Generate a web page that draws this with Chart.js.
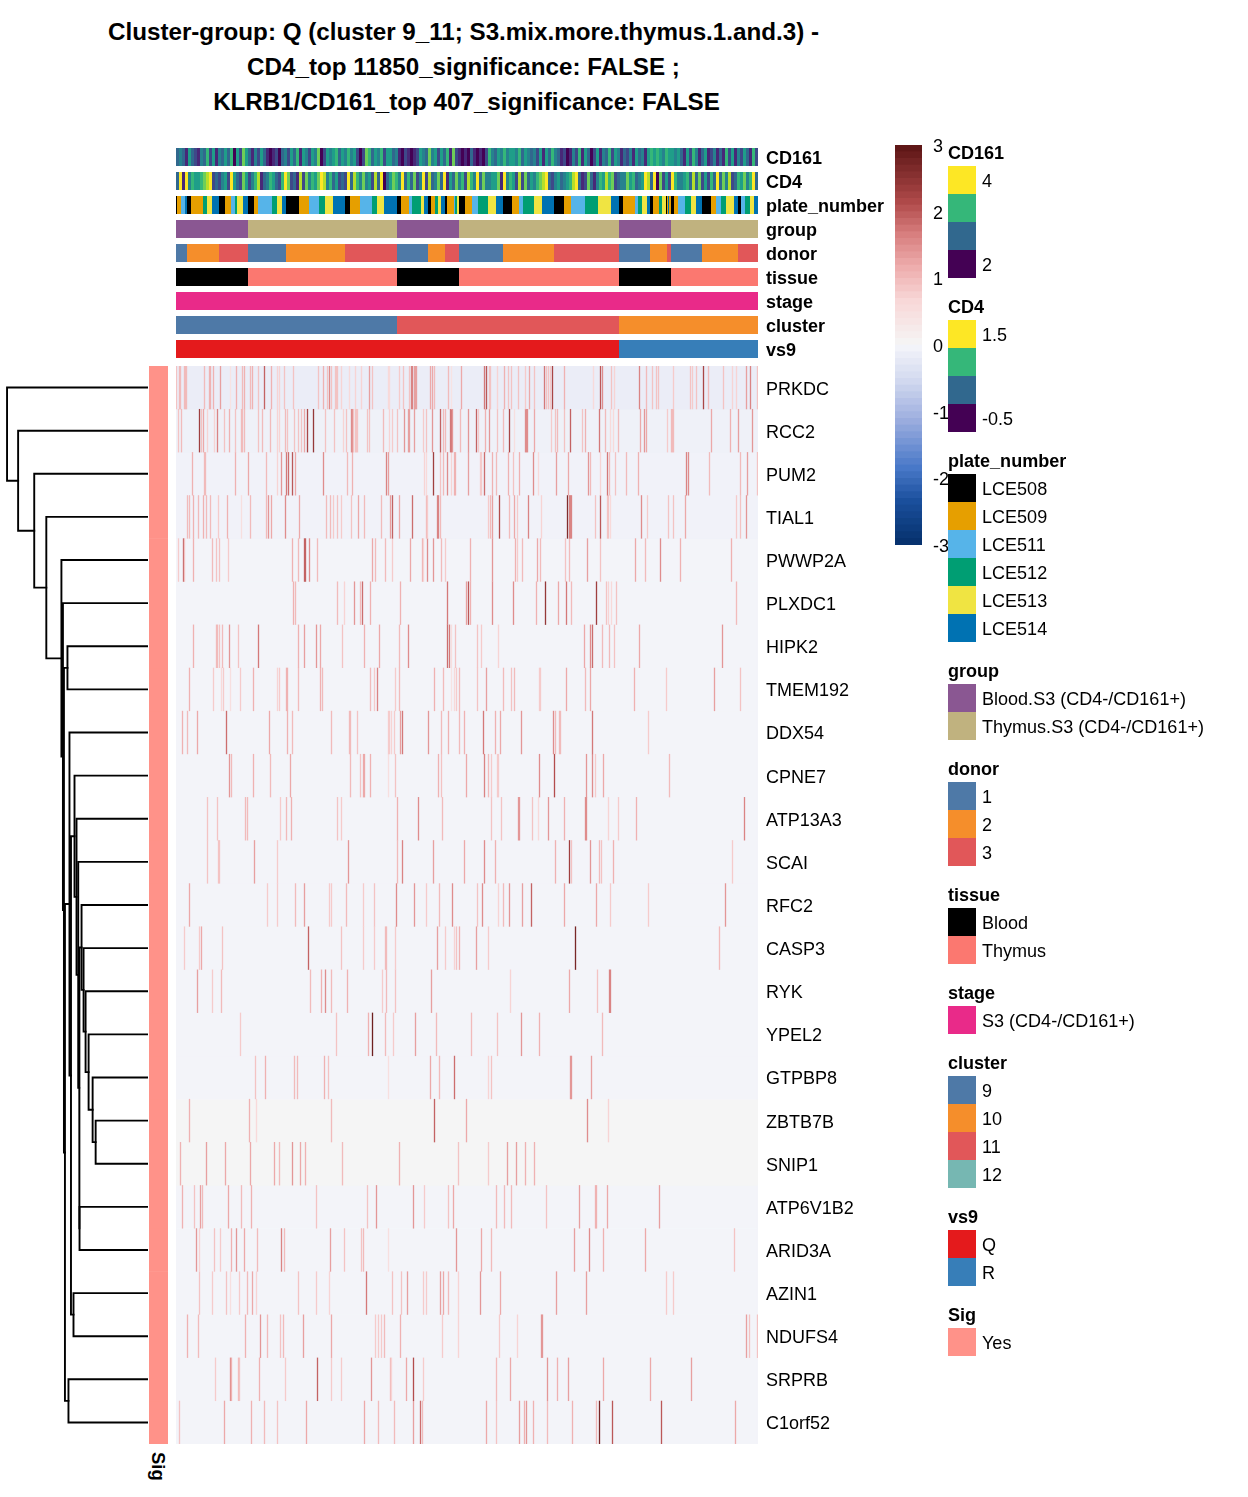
<!DOCTYPE html>
<html><head><meta charset="utf-8">
<script src="https://cdn.jsdelivr.net/npm/chart.js@4"></script>
<style>
html,body{margin:0;padding:0;background:#fff;width:1248px;height:1497px;overflow:hidden;font-family:"Liberation Sans",Arial,sans-serif;color:#000}
canvas{position:absolute;display:block}
.t{position:absolute;white-space:nowrap;line-height:20px}
.title{font-weight:bold;font-size:24.2px;line-height:30px;transform:translateX(-50%)}
.sw{position:absolute;left:948px;width:28px;height:28px;z-index:3}
.lg{z-index:3;font-size:18.05px}
.b{font-weight:bold}
</style></head><body>
<script>
// ---------- text ----------
const titleLines = ["Cluster-group: Q (cluster 9_11; S3.mix.more.thymus.1.and.3) -","CD4_top 11850_significance: FALSE ;","KLRB1/CD161_top 407_significance: FALSE"];
const genes = ["PRKDC","RCC2","PUM2","TIAL1","PWWP2A","PLXDC1","HIPK2","TMEM192","DDX54","CPNE7","ATP13A3","SCAI","RFC2","CASP3","RYK","YPEL2","GTPBP8","ZBTB7B","SNIP1","ATP6V1B2","ARID3A","AZIN1","NDUFS4","SRPRB","C1orf52"];
const trackNames = ["CD161","CD4","plate_number","group","donor","tissue","stage","cluster","vs9"];
const columnCount = 582;

// ---------- palettes ----------
const viridisLevels = ["#440154","#482878","#3e4989","#31688e","#26828e","#1f9e89","#35b779","#6ece58","#b5de2b","#fde725"];
const plateNames = ["LCE508","LCE509","LCE511","LCE512","LCE513","LCE514"];
const plateColors = ["#000000","#E69F00","#56B4E9","#009E73","#F0E442","#0072B2"];
const groupNames = ["Blood.S3 (CD4-/CD161+)","Thymus.S3 (CD4-/CD161+)"];
const groupColors = ["#8A5792","#C0B27F"];
const donorNames = ["1","2","3"];
const donorColors = ["#4E79A7","#F58E2B","#E15759"];
const tissueNames = ["Blood","Thymus"];
const tissueColors = ["#000000","#FB7870"];
const stageNames = ["S3 (CD4-/CD161+)"];
const stageColors = ["#E92A89"];
const clusterNames = ["9","10","11","12"];
const clusterColors = ["#4E79A7","#F58E2B","#E15759","#76B7B2"];
const vs9Names = ["Q","R"];
const vs9Colors = ["#E41A1C","#377EB8"];
const sigColor = "#FF9289";
const scaleValues = [-3,-2.35,-1.85,-1.1,-.5,-.15,-.03,0,.65,1.15,1.65,2.13,3];
const scaleColors = ["#05306b","#1a4f9c","#4878c8","#a0b0e0","#d5dcf0","#ebedf7","#f3f4f9","#f5f5f5","#f8d8d8","#eeaeae","#d87f7f","#b04a4a","#5a1414"];
const scaleTicks = [-3,-2,-1,0,1,2,3];

// ---------- annotation tracks (levels per 3 columns, run starts + levels) ----------
const cd161Levels = "34315321436251435360527531425310120342536154254702545635464520276354625534102101254374525361721010310102643546455463543425153643120142615302514362541324153415656546554531526413512413162514253162";
const cd4Levels = "39194655678923245295327524681346532697231827465798463523293864745283903576493637249283473915374628649374455719465282735467893245345689312731465867234475634598390725296445638372526393748236574693";
const plateStarts = [0,1,5,9,11,15,27,31,36,43,49,55,59,61,67,72,78,82,96,101,106,110,123,133,143,149,157,169,174,184,196,201,208,221,225,233,236,245,248,252,255,259,262,265,269,271,278,279,281,283,289,296,302,312,320,327,336,343,347,358,366,378,388,395,409,422,435,443,447,459,462,466,471,474,477,483,486,490,491,492,493,495,498,502,509,515,520,526,535,540,545,550,558,562,565,569,574,578];
const plateLevels = [0,1,2,5,0,1,3,4,5,0,1,2,3,4,5,0,1,2,3,4,5,0,1,2,3,4,5,0,1,2,3,4,5,0,1,2,3,4,5,0,1,3,4,5,0,1,2,3,4,0,1,2,3,4,5,0,1,2,3,4,5,0,1,2,3,4,5,0,1,2,3,4,5,0,1,3,4,0,1,5,1,0,1,2,3,4,5,0,1,2,3,4,5,0,2,3,4,5];
const groupStarts = [0,72,221,283,443,495];
const groupLevels = [0,1,0,1,0,1];
const donorStarts = [0,11,43,72,110,169,221,252,269,283,327,378,443,474,491,495,526,562];
const donorLevels = [0,1,2,0,1,2,0,1,2,0,1,2,0,1,2,0,1,2];
const tissueStarts = [0,72,221,283,443,495];
const tissueLevels = [0,1,0,1,0,1];
const stageStarts = [0];
const stageLevels = [0];
const clusterStarts = [0,221,443];
const clusterLevels = [0,2,1];
const vs9Starts = [0,443];
const vs9Levels = [0,1];

// ---------- heat map: background value per gene, then [column, value, ...] ----------
const rowBase = [-.15,-.09,-.06,-.06,-.03,-.03,-.03,-.03,-.03,-.03,-.03,-.03,-.03,-.03,-.03,-.03,-.03,0,0,-.03,-.03,-.03,-.03,-.03,-.03];
const rowPRKDC = [0,.9,3,1,4,1,8,1,9,1,10,1,28,1,33,1.1,34,1.1,37,1.1,44,1.3,54,.4,60,1.1,66,1,68,1.1,74,1,76,1.1,82,.9,88,1.9,95,1.1,101,.7,103,.7,108,.9,117,.9,142,.9,147,1.1,151,.9,153,1.5,155,.9,159,.9,160,.9,161,.9,165,.7,173,.6,179,.7,185,.7,193,1.3,196,.9,212,.6,213,.6,223,.8,227,.9,233,.9,235,1.6,236,1.6,238,1.3,239,1.3,240,1.3,254,1.2,256,1.2,258,1,272,1,275,.4,285,1.2,308,1.7,310,2,313,.9,314,.9,321,.7,328,1.1,332,.9,335,.9,342,.9,349,.8,353,1.2,358,.9,368,1.7,370,.9,372,.9,374,.8,376,2.2,388,1.1,417,.6,424,2,426,1.5,435,.9,438,.7,463,1.6,470,1,476,.9,480,.9,482,.9,497,.8,514,.9,516,.8,520,.9,527,2.2,532,1,547,.9,556,.7,560,.7,570,1.3,574,1.6,581,.9];
const rowRCC2 = [2,.9,5,1,23,2.3,25,.9,27,1.2,31,.7,38,.7,41,1.6,48,.9,53,1.1,59,.9,65,1,66,1,68,1,82,.9,86,1,94,1,101,.7,103,.7,109,1,111,.9,118,.9,122,.9,125,.9,128,1.2,131,2.2,137,2.4,149,.9,158,.9,167,.7,170,.9,175,1.5,176,1.5,177,.9,179,.9,180,.9,181,.9,191,.9,193,.9,207,1,213,.7,216,.8,221,.9,228,1.4,232,1.3,233,1.3,238,1.3,247,.8,250,.9,256,1.4,264,1.9,267,1,269,1,274,1.7,275,1.7,276,1.4,284,1,292,1.4,300,1.9,302,.8,309,1.1,313,1.4,321,.9,327,1,333,2.2,338,.5,349,1.5,350,1.5,351,1.5,358,1.2,375,.8,379,.9,381,1,388,.9,394,1.9,406,.9,409,1.1,423,1.7,429,1,434,.6,437,.6,442,1,464,1.2,468,1.4,470,1.2,491,.8,495,1,496,1,497,1,535,1.2,554,1.1,562,1.3,576,1.4];
const rowPUM2 = [16,1.1,28,1,29,1,59,1.1,72,1.2,90,1,101,.7,105,1.4,110,1.7,112,1.8,116,2,119,1.2,147,1.5,171,1,176,1.1,210,1.6,212,1.3,248,.7,250,.6,257,2.3,264,.9,267,1,271,1.5,275,.7,278,1.1,279,1.1,292,1.3,304,.8,305,.8,308,1.8,316,1.1,320,1,332,1.1,337,.9,343,1.1,357,1.5,362,.6,380,1.3,392,1.2,412,1.4,414,1,424,.7,431,1.7,433,1,439,.9,450,1,462,1.1,510,1.6,512,1.5,533,1,564,1,571,1.3,581,.9];
const rowTIAL1 = [11,1,13,1,17,1.1,22,1,27,1.1,30,1,34,1,42,.8,51,1.1,65,.5,74,1,90,1,92,1.4,95,1.2,109,1.5,123,1.2,150,1,154,1,157,.8,161,.9,165,.8,175,.9,182,1.2,188,1,205,1,214,1.3,216,1.9,223,1.2,236,1.8,250,1,251,.8,261,1.6,262,1.6,264,1,312,.8,314,1,316,1.3,323,2.1,333,1,338,1.2,341,.8,352,1.6,365,.7,391,2.6,393,1.6,394,1.6,395,1.6,419,.9,424,2,431,.9,432,.9,434,.6,465,1.5,471,.8,492,.9,497,.9,509,1.2,560,.8,564,.9,570,1.4];
const rowPWWP2A = [2,.8,7,1.9,8,.9,17,1.1,36,1,40,.9,43,.9,52,.8,116,1.1,122,1,128,1.9,129,1.9,133,1.5,141,1,196,1.2,199,1,209,1,216,.8,234,1.2,246,1.1,247,.7,251,1.5,257,1.4,265,1,269,.8,294,1.1,316,1.4,339,1.1,341,.8,346,1,361,1.2,364,1,389,.9,393,1,411,1.3,424,.9,459,1.2,469,1,484,1.5,504,1.1,555,1.1];
const rowPLXDC1 = [117,1.1,119,1,161,1,168,.7,178,1.4,184,1,186,1.8,194,1.1,224,1.1,271,1.7,290,1.3,292,2,294,1.1,316,1.5,337,1.5,360,1.1,369,2.4,382,1.2,390,1.7,395,1,420,2.3,430,.9,432,.7,435,.6,440,.9,560,1];
const rowHIPK2 = [17,1.1,40,1,41,1,43,.9,46,1,53,1.4,62,.9,82,1.7,122,1.1,128,1.3,140,1.4,144,1.2,166,.9,188,1.1,203,1.2,223,1,232,1.5,271,1.8,273,1.7,275,.5,279,.9,301,.9,305,.8,322,.7,408,1.2,414,1.5,416,1.8,426,1,433,1,438,.9,463,1.2,546,1.4];
const rowTMEM192 = [13,1.1,37,.8,45,.6,47,.8,54,.5,64,.8,77,1.1,101,.7,103,.8,110,1.1,111,1.1,122,1,144,1.1,146,1,194,1,198,.8,201,1.6,219,.8,223,1,258,1.1,267,1,275,.4,278,.6,280,.8,283,1,301,.9,310,1.3,327,1,335,.9,338,1,363,.8,364,.8,390,1.2,409,1,414,1.2,458,1.1,490,.8,538,1.3,564,.9];
const rowDDX54 = [6,1.1,11,1,21,1.2,50,1.8,93,1.2,111,1.1,116,1,155,1,173,1,174,1,181,.9,212,.8,213,.8,215,.7,218,.8,224,1.3,226,1.7,252,1.4,265,1,272,1.1,283,1,288,1.1,307,1.7,319,1.1,324,1.2,345,1.4,377,1.5,379,1,383,1,384,1,416,1.7,472,.8];
const rowCPNE7 = [53,1.4,55,1,77,1.1,94,1,114,1.2,174,1,184,.9,187,1.2,188,1.2,194,1.1,212,.5,219,.9,262,1.1,265,.9,290,1.2,308,1.6,312,1,315,.8,321,.8,322,.8,363,1.5,378,2.1,410,1.4,416,1.5,419,.8,427,1.2,493,1];
const rowATP13A3 = [31,.9,41,.9,69,1,71,1,104,.8,110,1,115,1.1,161,.9,165,.8,221,1.1,242,1.5,266,1,315,.9,325,.9,342,1.4,343,1.4,356,.9,362,.6,372,1.4,388,1.1,409,1.5,410,1.5,432,.7,442,.8,460,1.1,568,1.6];
const rowSCAI = [31,.9,42,.9,43,.9,78,1.3,101,.8,172,1.4,221,1,226,1.6,257,1.3,288,1.2,308,1.5,319,1.1,379,1.1,393,2.3,395,.9,414,1.4,423,1,425,.9,437,1.1,556,.8];
const rowRFC2 = [13,1.2,91,.8,101,.8,119,1,128,1.3,153,.8,155,.8,170,1,187,.8,198,.9,220,1.5,238,1.4,250,.8,263,1,276,1.5,301,.9,306,1.5,322,.7,327,1,333,1.4,346,1.3,355,1.9,388,1.2,420,1.2,434,.8,472,.8,549,1.4];
const rowCASP3 = [8,.8,23,.8,25,1.2,46,.9,132,1.9,165,.9,187,.8,198,.8,209,1,210,1,219,.8,261,1.3,269,.8,278,.7,280,.9,283,1.1,300,1.3,312,.8,399,2.7,543,1];
const rowRYK = [21,1.3,36,.8,45,1,134,1,145,1.1,149,1.5,155,1,171,1.1,206,.8,210,1,219,.9,255,1.3,334,.7,393,1.2,421,.9,433,1.6,434,1.6];
const rowYPEL2 = [64,.8,160,.9,192,1.1,196,2.8,209,1,217,.8,239,1.3,260,1,295,1,321,.9,345,1.4,363,1.1,426,1];
const rowGTPBP8 = [79,.9,89,1.1,118,1,121,1,148,1.1,152,.9,212,.5,254,1.2,263,1,278,1.8,312,.7,315,.9,394,1.4,395,1.4,415,1.3];
const rowZBTB7B = [13,1.1,73,1.1,80,.6,155,1,258,1.9,290,1.2,411,1.5,432,.7];
const rowSNIP1 = [4,1.1,30,1.3,49,1.2,74,1.2,98,1.2,103,1,116,1.4,124,1.2,129,1.1,166,1,223,1.1,282,.9,312,.8,331,1.3,340,1.3,349,1.1,358,1.1];
const rowATP6V1B2 = [6,1.1,18,.9,24,1.3,26,1,52,1.2,65,1,75,1.1,140,.9,191,.9,200,1.4,237,1.4,248,.8,272,.9,277,1.2,320,1,328,1,335,1,370,.9,403,1.3,419,1.1,420,1.1,431,1.2,483,1.3];
const rowARID3A = [20,1.4,23,.7,38,.9,44,.8,55,1.1,60,1.4,68,1.2,81,1,105,1.6,108,1,154,1.3,168,.9,185,.9,187,1,212,.5,280,1.4,305,1.2,315,1,398,1.3,413,1.5,427,1.1,469,1.2,558,.9];
const rowAZIN1 = [23,.9,36,.8,50,.9,54,.5,63,.8,71,1,76,1.2,80,.7,122,.9,140,.8,153,.7,190,1.7,216,.9,225,.9,231,1.3,247,.8,250,.8,264,1.3,267,1.2,272,1,282,.7,304,1.4,324,1.2,380,1.3,410,1.3,490,.8,497,.8];
const rowNDUFS4 = [11,1.1,22,1,69,1.1,84,1.4,91,1,104,.9,107,1,127,1.3,155,1.2,199,.8,202,.8,205,.8,208,1,224,1.1,266,.8,282,.7,323,.8,341,.7,365,1.4,366,1.4,570,1.3,573,.9,581,.9];
const rowSRPRB = [39,.8,54,1.5,55,1.1,62,1,63,.9,83,1.1,109,.8,141,1.9,155,.8,165,.8,195,1.4,214,1,215,.7,230,1.2,237,2.1,247,.8,320,1,334,1.2,371,1.4,381,1.1,392,1.3,427,1.2,474,1.2,515,1.3];
const rowC1orf52 = [3,.9,48,1.2,75,1.1,88,1,101,.9,130,1.2,188,1.2,202,1,218,1,237,1.3,244,1.8,246,1,310,1.2,320,.9,343,1.3,348,1.1,350,1.4,357,1.1,371,1,396,1.1,420,1,423,2.7,436,2,485,2,559,1.2];
const rows = [rowPRKDC,rowRCC2,rowPUM2,rowTIAL1,rowPWWP2A,rowPLXDC1,rowHIPK2,rowTMEM192,rowDDX54,rowCPNE7,rowATP13A3,rowSCAI,rowRFC2,rowCASP3,rowRYK,rowYPEL2,rowGTPBP8,rowZBTB7B,rowSNIP1,rowATP6V1B2,rowARID3A,rowAZIN1,rowNDUFS4,rowSRPRB,rowC1orf52];

// ---------- dendrogram: hclust-style merges (negative = leaf number) with heights ----------
const mergeA = [-18,-17,-16,-15,-14,-13,-20,6,-12,-11,-10,-22,11,-9,-24,14,-7,17,-6,-5,-4,-3,-2,-1];
const mergeB = [-19,1,2,3,4,5,-21,7,8,9,10,-23,12,13,-25,15,-8,16,18,19,20,21,22,23];
const mergeHeight = [52,55,59,62,64,66,68,68.3,69.3,71,73,74,76.5,78,79,82.5,80,83.5,84.5,86,101,113,129,140];

// ---------- legends ----------
const legendBlocks = [
 {title:"CD161",top:166,colors:[viridisLevels[9],viridisLevels[6],viridisLevels[3],viridisLevels[0]],labels:["4","","","2"]},
 {title:"CD4",top:320,colors:[viridisLevels[9],viridisLevels[6],viridisLevels[3],viridisLevels[0]],labels:["1.5","","","-0.5"]},
 {title:"plate_number",top:474,colors:plateColors,labels:plateNames},
 {title:"group",top:684,colors:groupColors,labels:groupNames},
 {title:"donor",top:782,colors:donorColors,labels:donorNames},
 {title:"tissue",top:908,colors:tissueColors,labels:tissueNames},
 {title:"stage",top:1006,colors:stageColors,labels:stageNames},
 {title:"cluster",top:1076,colors:clusterColors,labels:clusterNames},
 {title:"vs9",top:1230,colors:vs9Colors,labels:vs9Names},
 {title:"Sig",top:1328,colors:[sigColor],labels:["Yes"]}
];

// ---------- helpers ----------
Chart.defaults.font.family = '"Liberation Sans", Arial, sans-serif';
Chart.defaults.color = "#000";
const hex = s => [1,3,5].map(i=>parseInt(s.substr(i,2),16));
function colorOf(v){
  v = Math.max(scaleValues[0],Math.min(scaleValues[scaleValues.length-1],v));
  let k = 0; while(k<scaleValues.length-2 && v>scaleValues[k+1]) k++;
  const t=(v-scaleValues[k])/(scaleValues[k+1]-scaleValues[k]), a=hex(scaleColors[k]), b=hex(scaleColors[k+1]);
  return "rgb("+a.map((x,i)=>Math.round(x+(b[i]-x)*t)).join(",")+")";
}
function addCanvas(left,top,width,height){
  const c=document.createElement("canvas");
  c.width=width;c.height=height;
  c.style.cssText="left:"+left+"px;top:"+top+"px;width:"+width+"px;height:"+height+"px";
  document.body.appendChild(c);
  return c;
}
function addText(cls,left,cy,text,extra){
  const d=document.createElement("div");
  d.className="t "+cls; d.textContent=text;
  d.style.left=left+"px"; d.style.top=(cy-(cls.includes("title")?15:9))+"px";
  if(extra) d.style.cssText+=extra;
  document.body.appendChild(d);
}
const baseOpts = {responsive:false,animation:false,events:[],devicePixelRatio:1,
  plugins:{legend:{display:false},tooltip:{enabled:false},title:{display:false}},
  layout:{padding:0},
  datasets:{bar:{grouped:false,barPercentage:1,categoryPercentage:1,borderWidth:0}}};
const columns = Array.from({length:columnCount},(_,i)=>i);
const fixAxis = (s,w) => {s.width=w;s.paddingTop=0;s.paddingBottom=0;s.paddingLeft=0;s.paddingRight=0;};
const rightAxis = (names,w,font) => ({position:"right",reverse:true,min:0,max:names.length,
  grid:{display:false,drawTicks:false},border:{display:false},
  afterBuildTicks:s=>{s.ticks=names.map((_,i)=>({value:i+.5}));},
  afterFit:s=>fixAxis(s,w),
  ticks:{padding:8,font:font,autoSkip:false,maxRotation:0,labelOffset:2,callback:(v,i)=>names[i]}});

// ---------- annotation tracks ----------
function runColors(starts,levels,palette){
  const out=[];let k=0;
  for(const c of columns){ while(k<starts.length-1 && c>=starts[k+1]) k++; out.push(palette[levels[k]]); }
  return out;
}
const stripColors = s => columns.map(c=>viridisLevels[+s[Math.min(Math.floor(c/3),s.length-1)]]);
const trackColors = [stripColors(cd161Levels),stripColors(cd4Levels),
  runColors(plateStarts,plateLevels,plateColors),runColors(groupStarts,groupLevels,groupColors),
  runColors(donorStarts,donorLevels,donorColors),runColors(tissueStarts,tissueLevels,tissueColors),
  runColors(stageStarts,stageLevels,stageColors),runColors(clusterStarts,clusterLevels,clusterColors),
  runColors(vs9Starts,vs9Levels,vs9Colors)];
new Chart(addCanvas(176,145,720,222),{type:"bar",
  data:{labels:columns,datasets:trackColors.map((cols,i)=>({label:trackNames[i],
    data:columns.map(()=>[i+.125,i+.875]),backgroundColor:cols,inflateAmount:0}))},
  options:{...baseOpts,layout:{padding:{bottom:6}},scales:{x:{display:false},y:rightAxis(trackNames,138,{size:18,weight:"bold"})}}});

// ---------- heat map ----------
const heatSets=[];
rows.forEach((r,i)=>{
  heatSets.push({label:genes[i]+" base",order:2,inflateAmount:.33,
    data:columns.map(()=>[i,i+1]),backgroundColor:colorOf(rowBase[i])});
  const data=columns.map(()=>null), cols=columns.map(()=>"#fff");
  for(let k=0;k<r.length;k+=2){data[r[k]]=[i,i+1];cols[r[k]]=colorOf(r[k+1]);}
  heatSets.push({label:genes[i],order:1,inflateAmount:.16,data:data,backgroundColor:cols});
});
new Chart(addCanvas(176,366,720,1084),{type:"bar",
  data:{labels:columns,datasets:heatSets},
  options:{...baseOpts,layout:{padding:{bottom:6}},scales:{x:{display:false},y:rightAxis(genes,138,{size:18})}}});

// ---------- Sig strip ----------
new Chart(addCanvas(149,366,19,1078),{type:"bar",
  data:{labels:["Sig"],datasets:genes.map((g,i)=>({label:g,data:[[i,i+1]],backgroundColor:sigColor}))},
  options:{...baseOpts,scales:{x:{display:false},y:{display:false,reverse:true,min:0,max:genes.length}}}});

// ---------- dendrogram ----------
const nodeY=[],nodeH=[];
const leafRow=n=>-n-1;
const posY=n=>n<0?leafRow(n)+.5:nodeY[n-1];
const posH=n=>n<0?0:nodeH[n-1];
mergeA.forEach((a,i)=>{
  const b=mergeB[i]; nodeY[i]=(posY(a)+posY(b))/2; nodeH[i]=mergeHeight[i];
});
const dendroSets=mergeA.map((a,i)=>{
  const b=mergeB[i],h=mergeHeight[i];
  return {type:"line",data:[{x:posH(a),y:posY(a)},{x:h,y:posY(a)},{x:h,y:posY(b)},{x:posH(b),y:posY(b)}],
    borderColor:"#000",borderWidth:1.9,pointRadius:0,tension:0,fill:false,parsing:false,borderCapStyle:"square",clip:false};
});
new Chart(addCanvas(0,366,148,1078),{type:"line",data:{datasets:dendroSets},
  options:{...baseOpts,scales:{x:{type:"linear",display:false,reverse:true,min:0,max:147},
    y:{type:"linear",display:false,reverse:true,min:0,max:genes.length}}}});

// ---------- colour bar ----------
const barSteps=[];
for(let s=0;s<60;s++) barSteps.push(-3+s*.1);
new Chart(addCanvas(895,133,60,424),{type:"bar",
  data:{labels:["z"],datasets:barSteps.map(s=>({label:String(s),data:[[s,s+.1]],backgroundColor:colorOf(s+.05),inflateAmount:.33}))},
  options:{...baseOpts,layout:{padding:{top:12,bottom:12}},scales:{x:{display:false},
    y:{position:"right",min:-3,max:3,grid:{display:false,drawTicks:false},border:{display:false},
      afterBuildTicks:s=>{s.ticks=scaleTicks.map(v=>({value:v}));},
      afterFit:s=>fixAxis(s,33),
      ticks:{padding:11,font:{size:18},autoSkip:false,labelOffset:2,callback:v=>String(v)}}}}});

// ---------- html text ----------
const titleCx=[463.5,463.5,466.5],titleCy=[32,67,102];
titleLines.forEach((l,i)=>addText("title",titleCx[i],titleCy[i],l));
const sig=document.createElement("div");
sig.className="t b"; sig.textContent="Sig";
sig.style.cssText+="left:149px;top:1452px;font-size:18.5px;writing-mode:vertical-rl;width:19px;line-height:19px";
document.body.appendChild(sig);
legendBlocks.forEach(b=>{
  addText("lg b",948,b.top-14,b.title);
  b.colors.forEach((c,i)=>{
    const s=document.createElement("div");s.className="sw";
    s.style.top=(b.top+28*i)+"px";s.style.background=c;document.body.appendChild(s);
    if(b.labels[i]) addText("lg",982,b.top+28*i+14,b.labels[i]);
  });
});
</script>
</body></html>
